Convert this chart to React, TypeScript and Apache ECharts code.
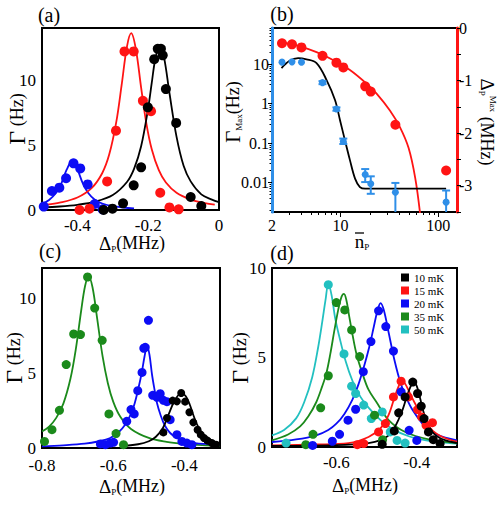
import { useEffect, useRef } from "react";
import * as echarts from "echarts";

const SERIF = "'Liberation Serif', 'Times New Roman', 'DejaVu Serif', serif";

const C_BLACK = "#000000";
const C_RED = "#ff1414";
const C_BLUE = "#0c0cf5";
const C_GREEN = "#1b8a1b";
const C_CYAN = "#22c0c0";
const C_SKY = "#2f8fe8";

// ---------- (a) rate vs detuning ----------
const aXTicks = [-0.4, -0.2, 0];
const aYTicks = [0, 5, 10];
const aBlackPts = [[-0.326, 0.0], [-0.301, 0.1], [-0.271, 0.51], [-0.241, 1.9], [-0.22, 3.28], [-0.201, 7.9], [-0.183, 11.6], [-0.173, 12.4], [-0.164, 12.4], [-0.159, 11.9], [-0.15, 9.3], [-0.121, 6.7], [-0.08, 1.0], [-0.05, 0.31]];
const aRedPts = [[-0.394, 0.0], [-0.366, 0.1], [-0.316, 2.2], [-0.291, 6.1], [-0.267, 12.2], [-0.241, 12.2], [-0.215, 8.4], [-0.192, 7.6], [-0.166, 1.33], [-0.14, 0.2], [-0.114, 0.05]];
const aBluePts = [[-0.495, 0.26], [-0.472, 1.46], [-0.451, 1.72], [-0.432, 2.44], [-0.411, 3.59], [-0.392, 3.2], [-0.371, 1.97], [-0.351, 0.46], [-0.329, 0.05]];
const aBlackFit = [[-0.5, 0.2], [-0.45, 0.27], [-0.4, 0.4], [-0.35, 0.64], [-0.3, 1.15], [-0.26, 2.15], [-0.24, 3.16], [-0.22, 4.9], [-0.2, 7.85], [-0.19, 9.77], [-0.18, 11.6], [-0.167, 12.7], [-0.155, 11.7], [-0.14, 9.0], [-0.12, 5.64], [-0.1, 3.4], [-0.08, 2.2], [-0.05, 1.2], [-0.02, 0.8], [0, 0.6]];
const aRedFit = [[-0.486, 0.41], [-0.45, 0.56], [-0.4, 0.96], [-0.36, 1.68], [-0.33, 2.83], [-0.31, 4.28], [-0.29, 6.8], [-0.275, 9.62], [-0.26, 12.57], [-0.248, 13.6], [-0.235, 12.4], [-0.22, 9.42], [-0.205, 6.63], [-0.19, 4.68], [-0.17, 3.06], [-0.15, 2.11], [-0.12, 1.32], [-0.08, 0.8], [-0.04, 0.53], [-0.012, 0.42]];
const aBlueFit = [[-0.5, 0.45], [-0.48, 0.77], [-0.46, 1.32], [-0.445, 2.06], [-0.43, 3.12], [-0.415, 3.77], [-0.4, 3.12], [-0.385, 2.06], [-0.37, 1.32], [-0.35, 0.77], [-0.33, 0.5], [-0.3, 0.29], [-0.27, 0.19], [-0.24, 0.13]];

// ---------- (b) maxima vs mean photon number ----------
const bXTicks = [2, 10, 100];
const bXMinor = [3, 4, 5, 6, 7, 8, 9, 20, 30, 40, 50, 60, 70, 80, 90];
const bYLeftTicks = [0.01, 0.1, 1, 10];
const bYLeftMinor = [0.002, 0.003, 0.004, 0.005, 0.006, 0.007, 0.008, 0.009, 0.02, 0.03, 0.04, 0.05, 0.06, 0.07, 0.08, 0.09, 0.2, 0.3, 0.4, 0.5, 0.6, 0.7, 0.8, 0.9, 2, 3, 4, 5, 6, 7, 8, 9, 20, 30, 40, 50, 60, 70, 80];
const bYRightTicks = [-3, -2, -1, 0];
const bPhotonNumber = [2.53, 3.2, 4.0, 6.56, 9.1, 10.7, 17.9, 20.4, 36.4, 120];
const bShiftMax = [-0.29, -0.31, -0.37, -0.53, -0.66, -0.75, -1.11, -1.21, -1.84, -2.71];
const bRateMax = [11.2, 11.4, 11.2, 3.4, 0.73, 0.11, 0.016, 0.0093, 0.0057, 0.0032];
const bRateLow = [null, null, null, 3.1, 0.66, 0.095, 0.0103, 0.0052, 0.001, 0.001];
const bRateHigh = [null, null, null, 3.7, 0.8, 0.13, 0.022, 0.0144, 0.0098, 0.0063];
const bShiftFit = [[2.5, -0.27], [3.85, -0.35], [5.7, -0.46], [8.4, -0.61], [12.5, -0.8], [18.5, -1.06], [23.4, -1.25], [32, -1.57], [40.6, -1.89], [49.6, -2.28], [58, -2.85], [65, -3.52]];
const bRateFit = [[2.5, 7.9], [3.0, 12], [3.7, 14.2], [4.5, 13.2], [5.7, 10.6], [7.2, 4.0], [8.8, 1.23], [9.9, 0.38], [11.1, 0.119], [12.5, 0.037], [14.1, 0.0126], [15.8, 0.0077], [17.9, 0.007], [120, 0.007]];

// ---------- (c) ----------
const cXTicks = [-0.8, -0.6, -0.4];
const cYTicks = [0, 5, 10];
const cGreenPts = [[-0.793, 0.44], [-0.772, 1.22], [-0.751, 2.51], [-0.732, 5.56], [-0.711, 7.6], [-0.692, 7.56], [-0.672, 11.4], [-0.652, 9.33], [-0.631, 7.18], [-0.612, 2.27], [-0.592, 0.96], [-0.571, 0.22]];
const cBluePts = [[-0.636, 0.27], [-0.622, 0.22], [-0.608, 0.33], [-0.599, 0.38], [-0.562, 1.78], [-0.55, 2.56], [-0.541, 2.27], [-0.531, 3.82], [-0.519, 5.04], [-0.514, 6.65], [-0.51, 6.71], [-0.501, 8.51], [-0.489, 3.51], [-0.477, 3.38], [-0.468, 3.62], [-0.459, 3.18], [-0.449, 3.09], [-0.44, 1.89], [-0.421, 0.89], [-0.407, 0.44], [-0.393, 0.33], [-0.379, 0.22]];
const cBlackPts = [[-0.459, 1.04], [-0.449, 2.0], [-0.433, 3.16], [-0.421, 3.11], [-0.409, 3.67], [-0.398, 3.09], [-0.386, 2.38], [-0.375, 1.71], [-0.363, 1.22], [-0.354, 0.89], [-0.345, 0.67], [-0.335, 0.49], [-0.323, 0.33], [-0.311, 0.22]];
const cGreenFit = [[-0.8, 1.1], [-0.78, 1.43], [-0.76, 2.01], [-0.74, 2.96], [-0.72, 4.63], [-0.705, 6.59], [-0.69, 9.15], [-0.679, 10.8], [-0.669, 11.44], [-0.658, 10.7], [-0.645, 8.62], [-0.63, 6.14], [-0.615, 4.32], [-0.6, 3.09], [-0.58, 2.08], [-0.55, 1.27], [-0.5, 0.67], [-0.45, 0.41], [-0.4, 0.27], [-0.35, 0.19], [-0.3, 0.15]];
const cBlueFit = [[-0.8, 0.11], [-0.74, 0.18], [-0.68, 0.29], [-0.64, 0.45], [-0.61, 0.65], [-0.585, 1.05], [-0.565, 1.6], [-0.55, 2.3], [-0.54, 2.95], [-0.53, 3.9], [-0.52, 5.0], [-0.512, 6.1], [-0.505, 6.84], [-0.498, 6.2], [-0.491, 4.9], [-0.484, 3.9], [-0.477, 3.0], [-0.467, 2.2], [-0.455, 1.5], [-0.44, 1.0], [-0.42, 0.65], [-0.4, 0.47], [-0.37, 0.33], [-0.34, 0.27], [-0.3, 0.22]];
const cBlackFit = [[-0.58, 0.12], [-0.53, 0.25], [-0.5, 0.45], [-0.48, 0.75], [-0.46, 1.35], [-0.445, 2.2], [-0.43, 3.05], [-0.418, 3.5], [-0.407, 3.62], [-0.396, 3.45], [-0.385, 2.9], [-0.375, 2.2], [-0.365, 1.6], [-0.355, 1.15], [-0.345, 0.87], [-0.33, 0.6], [-0.315, 0.43], [-0.3, 0.33]];

// ---------- (d) temperature series ----------
const dXTicks = [-0.6, -0.4];
const dYTicks = [0, 5, 10];
const dNames = ["10 mK", "15 mK", "20 mK", "35 mK", "50 mK"];
const d10Pts = [[-0.486, 0.15], [-0.456, 0.9], [-0.445, 1.91], [-0.429, 2.8], [-0.41, 3.63], [-0.398, 2.99], [-0.389, 2.28], [-0.382, 1.59], [-0.371, 0.84], [-0.359, 0.41], [-0.342, 0.19]];
const d15Pts = [[-0.548, 0.13], [-0.532, 0.19], [-0.495, 0.84], [-0.478, 1.31], [-0.458, 2.8], [-0.439, 3.68], [-0.421, 2.8], [-0.398, 2.09], [-0.388, 1.68], [-0.377, 1.21], [-0.361, 1.36]];
const d20Pts = [[-0.659, 0.09], [-0.61, 0.32], [-0.592, 0.71], [-0.571, 1.5], [-0.552, 2.11], [-0.533, 4.21], [-0.514, 5.89], [-0.495, 7.61], [-0.477, 6.73], [-0.458, 5.36], [-0.439, 3.08], [-0.419, 0.93], [-0.4, 0.37]];
const d35Pts = [[-0.676, 0.13], [-0.658, 0.71], [-0.639, 2.19], [-0.62, 3.98], [-0.6, 8.07], [-0.579, 7.66], [-0.562, 6.54], [-0.542, 5.05], [-0.505, 1.78], [-0.485, 0.41]];
const d50Pts = [[-0.725, 0.22], [-0.62, 9.07], [-0.581, 5.2], [-0.562, 3.4], [-0.552, 2.99], [-0.532, 2.34], [-0.513, 1.59], [-0.486, 1.96], [-0.466, 0.84], [-0.449, 0.37], [-0.429, 0.22]];
const d10Fit = [[-0.76, 0.06], [-0.6, 0.1], [-0.52, 0.22], [-0.49, 0.38], [-0.47, 0.65], [-0.455, 1.1], [-0.445, 1.55], [-0.435, 2.1], [-0.425, 2.8], [-0.415, 3.4], [-0.408, 3.64], [-0.4, 3.4], [-0.392, 2.75], [-0.385, 2.1], [-0.375, 1.4], [-0.365, 0.95], [-0.35, 0.6], [-0.33, 0.38], [-0.3, 0.22]];
const d15Fit = [[-0.76, 0.09], [-0.65, 0.14], [-0.57, 0.22], [-0.52, 0.56], [-0.49, 1.05], [-0.47, 1.8], [-0.455, 2.8], [-0.445, 3.4], [-0.437, 3.7], [-0.428, 3.5], [-0.415, 2.9], [-0.4, 2.25], [-0.38, 1.45], [-0.36, 0.9], [-0.34, 0.6], [-0.32, 0.42], [-0.3, 0.3]];
const d20Fit = [[-0.76, 0.28], [-0.7, 0.42], [-0.65, 0.65], [-0.62, 0.95], [-0.6, 1.3], [-0.58, 1.85], [-0.56, 2.65], [-0.545, 3.5], [-0.53, 4.6], [-0.518, 5.6], [-0.507, 6.7], [-0.498, 7.6], [-0.49, 8.04], [-0.482, 7.65], [-0.47, 6.4], [-0.455, 4.8], [-0.44, 3.55], [-0.425, 2.7], [-0.41, 2.05], [-0.38, 1.15], [-0.35, 0.7], [-0.3, 0.37]];
const d35Fit = [[-0.76, 0.37], [-0.72, 0.7], [-0.69, 1.15], [-0.67, 1.7], [-0.65, 2.5], [-0.635, 3.4], [-0.625, 4.1], [-0.615, 5.2], [-0.605, 6.5], [-0.595, 7.7], [-0.587, 8.4], [-0.581, 8.56], [-0.575, 8.2], [-0.568, 7.3], [-0.56, 6.3], [-0.55, 5.2], [-0.535, 4.1], [-0.52, 3.2], [-0.5, 2.5], [-0.47, 1.5], [-0.43, 0.85], [-0.37, 0.42], [-0.3, 0.22]];
const d50Fit = [[-0.76, 0.65], [-0.73, 0.95], [-0.7, 1.6], [-0.68, 2.5], [-0.66, 3.9], [-0.645, 5.6], [-0.635, 7.0], [-0.627, 8.2], [-0.62, 9.1], [-0.612, 8.5], [-0.603, 7.2], [-0.593, 6.2], [-0.577, 4.8], [-0.56, 3.7], [-0.54, 2.8], [-0.52, 2.2], [-0.49, 1.5], [-0.46, 1.0], [-0.42, 0.6], [-0.38, 0.38], [-0.34, 0.26], [-0.3, 0.19]];

// ---------- helpers ----------
const near = (a: number, b: number) => Math.abs(a - b) <= 1e-6 * Math.max(Math.abs(b), 1e-3);
const pickLabel = (list: number[], fmt: (v: number) => string) => (v: number) => {
  const hit = list.find((t) => near(v, t));
  return hit === undefined ? "" : fmt(hit);
};
const fmtDet = (v: number) => (v === 0 ? "0" : v.toFixed(1));
const fmtPlain = (v: number) => String(v);

const xValueAxis = (gridIndex: number, min: number, max: number, interval: number, ticks: number[], margin = 8) => ({
  type: "value", gridIndex, min, max, interval, position: "bottom",
  axisLine: { show: false, onZero: false },
  axisTick: { show: false },
  splitLine: { show: false },
  axisLabel: { customValues: ticks, formatter: pickLabel(ticks, fmtDet), fontSize: 17, lineHeight: 14, fontFamily: SERIF, color: "#000", margin },
});
const yValueAxis = (gridIndex: number, min: number, max: number, ticks: number[]) => ({
  type: "value", gridIndex, min, max, interval: 5, position: "left",
  axisLine: { show: false, onZero: false },
  axisTick: { show: false },
  splitLine: { show: false },
  axisLabel: { customValues: ticks, formatter: pickLabel(ticks, fmtPlain), fontSize: 17, lineHeight: 12, fontFamily: SERIF, color: "#000", margin: 6 },
});

const dots = (name: string, xi: number, yi: number, data: any[], color: string, size: number) => ({
  type: "scatter", name, xAxisIndex: xi, yAxisIndex: yi, data, symbol: "circle", symbolSize: size,
  itemStyle: { color, opacity: 1 }, z: 4, silent: true,
});
const fitLine = (name: string, xi: number, yi: number, data: any[], color: string) => ({
  type: "line", name, xAxisIndex: xi, yAxisIndex: yi, data, smooth: 0.35, showSymbol: false, symbol: "none",
  lineStyle: { color, width: 1.8 }, z: 3, silent: true,
});

const textEl = (x: number, y: number, text: string, rich: any, rotation = 0) => ({
  type: "text", x, y, rotation, silent: true, z: 20,
  style: { text, rich, align: "center", verticalAlign: "middle", textAlign: "center", textVerticalAlign: "middle", fill: "#000", fontFamily: SERIF, fontSize: 18 },
});

const RICH = {
  g: { fontSize: 24, fontFamily: SERIF, fill: "#000", lineHeight: 24 },
  gs: { fontSize: 21, fontFamily: SERIF, fill: "#000", lineHeight: 21 },
  d: { fontSize: 19, fontFamily: SERIF, fill: "#000", lineHeight: 20 },
  n: { fontSize: 19, fontFamily: SERIF, fill: "#000", lineHeight: 20 },
  m: { fontSize: 18, fontFamily: SERIF, fill: "#000", lineHeight: 20 },
  s: { fontSize: 9, fontFamily: SERIF, fill: "#000", lineHeight: 20, verticalAlign: "bottom" },
  u: { fontSize: 9, fontFamily: SERIF, fill: "#000", lineHeight: 20, verticalAlign: "top" },
  p: { fontSize: 20, fontFamily: SERIF, fill: "#000", lineHeight: 22 },
};

export default function App() {
  const ref = useRef<HTMLDivElement>(null);

  useEffect(() => {
    if (!ref.current) return;
    const chart = echarts.init(ref.current, null, { renderer: "svg" });

    const errorBars = bPhotonNumber
      .map((n, i) => [n, bRateLow[i], bRateHigh[i]])
      .filter((d) => d[1] !== null);

    const option: any = {
      animation: false,
      backgroundColor: "#ffffff",
      textStyle: { fontFamily: SERIF },
      grid: [
        { left: 42, top: 28, width: 177, height: 182, show: true, borderColor: "#000", borderWidth: 2, backgroundColor: "transparent" },
        { left: 272, top: 28, width: 185, height: 184, show: true, borderColor: "#000", borderWidth: 2, backgroundColor: "transparent" },
        { left: 42, top: 268, width: 178, height: 180, show: true, borderColor: "#000", borderWidth: 2, backgroundColor: "transparent" },
        { left: 272, top: 268, width: 185, height: 179, show: true, borderColor: "#000", borderWidth: 2, backgroundColor: "transparent" },
      ],
      xAxis: [
        xValueAxis(0, -0.5, 0, 0.1, aXTicks),
        {
          type: "log", logBase: 10, gridIndex: 1, min: 2, max: 155, position: "bottom",
          axisLine: { show: false, onZero: false },
          axisTick: { show: true, customValues: [10, 100], length: 5, inside: false, lineStyle: { color: "#000", width: 1 } },
          splitLine: { show: false },
          axisLabel: { customValues: bXTicks, formatter: pickLabel(bXTicks, fmtPlain), fontSize: 16, lineHeight: 15, fontFamily: SERIF, color: "#000", margin: 6 },
        },
        xValueAxis(2, -0.8, -0.3, 0.1, cXTicks, 10),
        xValueAxis(3, -0.76, -0.3, 0.02, dXTicks),
        {
          type: "log", logBase: 10, gridIndex: 1, min: 2, max: 155, position: "bottom",
          axisLine: { show: false, onZero: false },
          axisTick: { show: true, customValues: bXMinor, length: 3, inside: false, lineStyle: { color: "#000", width: 1 } },
          splitLine: { show: false },
          axisLabel: { show: false },
        },
      ],
      yAxis: [
        yValueAxis(0, 0, 14, aYTicks),
        {
          type: "log", logBase: 10, gridIndex: 1, min: 0.0018, max: 82, position: "left", z: 10,
          axisLine: { show: true, onZero: false, lineStyle: { color: C_SKY, width: 3 } },
          axisTick: { show: true, customValues: bYLeftTicks, length: 4, lineStyle: { color: "#000", width: 1 } },
          splitLine: { show: false },
          axisLabel: { customValues: bYLeftTicks, formatter: pickLabel(bYLeftTicks, fmtPlain), fontSize: 16, lineHeight: 15, fontFamily: SERIF, color: "#000", margin: 3 },
        },
        {
          type: "value", gridIndex: 1, min: -3.5, max: 0, interval: 0.5, position: "right", z: 10,
          axisLine: { show: true, onZero: false, lineStyle: { color: C_RED, width: 3 } },
          axisTick: { show: true, length: 4, lineStyle: { color: "#000", width: 1 } },
          splitLine: { show: false },
          axisLabel: { formatter: pickLabel(bYRightTicks, fmtPlain), fontSize: 16, lineHeight: 15, fontFamily: SERIF, color: "#000", margin: 2 },
        },
        yValueAxis(2, 0, 12, cYTicks),
        yValueAxis(3, 0, 10, dYTicks),
        {
          type: "log", logBase: 10, gridIndex: 1, min: 0.0018, max: 82, position: "left",
          axisLine: { show: false, onZero: false },
          axisTick: { show: true, customValues: bYLeftMinor, length: 2.5, lineStyle: { color: "#000", width: 1 } },
          splitLine: { show: false },
          axisLabel: { show: false },
        },
      ],
      legend: {
        data: dNames.map((name) => ({ name, icon: "rect" })),
        orient: "vertical",
        left: 401,
        top: 272,
        itemWidth: 8,
        itemHeight: 8,
        itemGap: 2,
        padding: 0,
        selectedMode: false,
        textStyle: { fontSize: 11, fontFamily: SERIF, color: "#000", lineHeight: 9 },
      },
      series: [
        // (a)
        fitLine("a-blue-fit", 0, 0, aBlueFit, C_BLUE),
        fitLine("a-red-fit", 0, 0, aRedFit, C_RED),
        fitLine("a-black-fit", 0, 0, aBlackFit, C_BLACK),
        dots("a-blue", 0, 0, aBluePts, C_BLUE, 10),
        dots("a-red", 0, 0, aRedPts, C_RED, 10),
        dots("a-black", 0, 0, aBlackPts, C_BLACK, 10),
        // (b)
        fitLine("b-shift-fit", 1, 2, bShiftFit, C_RED),
        fitLine("b-rate-fit", 1, 1, bRateFit, C_BLACK),
        dots("b-shift", 1, 2, bPhotonNumber.map((n, i) => [n, bShiftMax[i]]), C_RED, 10),
        {
          type: "custom", name: "b-rate-err", xAxisIndex: 1, yAxisIndex: 1, clip: true, silent: true, z: 4,
          data: errorBars,
          encode: { x: 0, y: [1, 2] },
          renderItem: (_params: any, api: any) => {
            const n = api.value(0);
            const lo = api.coord([n, api.value(1)]);
            const hi = api.coord([n, api.value(2)]);
            const w = 4;
            const st = { stroke: C_SKY, lineWidth: 2 };
            return {
              type: "group",
              children: [
                { type: "line", shape: { x1: hi[0], y1: hi[1], x2: lo[0], y2: lo[1] }, style: st },
                { type: "line", shape: { x1: hi[0] - w, y1: hi[1], x2: hi[0] + w, y2: hi[1] }, style: st },
                { type: "line", shape: { x1: lo[0] - w, y1: lo[1], x2: lo[0] + w, y2: lo[1] }, style: st },
              ],
            };
          },
        },
        dots("b-rate", 1, 1, bPhotonNumber.map((n, i) => [n, bRateMax[i]]), C_SKY, 7),
        // (c)
        fitLine("c-green-fit", 2, 3, cGreenFit, C_GREEN),
        fitLine("c-blue-fit", 2, 3, cBlueFit, C_BLUE),
        fitLine("c-black-fit", 2, 3, cBlackFit, C_BLACK),
        dots("c-green", 2, 3, cGreenPts, C_GREEN, 9),
        dots("c-blue", 2, 3, cBluePts, C_BLUE, 9),
        dots("c-black", 2, 3, cBlackPts, C_BLACK, 8),
        // (d)
        fitLine("d50-fit", 3, 4, d50Fit, C_CYAN),
        fitLine("d35-fit", 3, 4, d35Fit, C_GREEN),
        fitLine("d20-fit", 3, 4, d20Fit, C_BLUE),
        fitLine("d15-fit", 3, 4, d15Fit, C_RED),
        fitLine("d10-fit", 3, 4, d10Fit, C_BLACK),
        dots(dNames[4], 3, 4, d50Pts, C_CYAN, 9),
        dots(dNames[3], 3, 4, d35Pts, C_GREEN, 9),
        dots(dNames[2], 3, 4, d20Pts, C_BLUE, 9),
        dots(dNames[1], 3, 4, d15Pts, C_RED, 9),
        dots(dNames[0], 3, 4, d10Pts, C_BLACK, 9),
      ],
      graphic: [
        textEl(49, 15, "{p|(a)}", RICH),
        textEl(282, 14, "{p|(b)}", RICH),
        textEl(50, 251, "{p|(c)}", RICH),
        textEl(282, 253, "{p|(d)}", RICH),
        // y titles
        textEl(17, 119, "{g|Γ}{m| (Hz)}", RICH, Math.PI / 2),
        textEl(233, 112, "{gs|Γ}{s|Max}{m|(Hz)}", RICH, Math.PI / 2),
        textEl(487, 122, "{d|Δ}{s|P}{u|Max}{m| (MHz)}", RICH, -Math.PI / 2),
        textEl(14, 358, "{g|Γ}{m| (Hz)}", RICH, Math.PI / 2),
        textEl(240, 358, "{g|Γ}{m| (Hz)}", RICH, Math.PI / 2),
        // x titles
        textEl(132, 243, "{d|Δ}{s|P}{m|(MHz)}", RICH),
        textEl(132, 486, "{d|Δ}{s|P}{m|(MHz)}", RICH),
        textEl(365, 485, "{d|Δ}{s|P}{m|(MHz)}", RICH),
        textEl(362, 241, "{n|n}{s|P}", RICH),
        { type: "line", silent: true, z: 20, shape: { x1: 355, y1: 233, x2: 364, y2: 233 }, style: { stroke: "#000", lineWidth: 1.3 } },
      ],
    };

    chart.setOption(option);
    return () => chart.dispose();
  }, []);

  return (
    <div
      ref={ref}
      style={{ position: "absolute", left: 0, top: 0, width: 502, height: 508, background: "#fff" }}
    />
  );
}
